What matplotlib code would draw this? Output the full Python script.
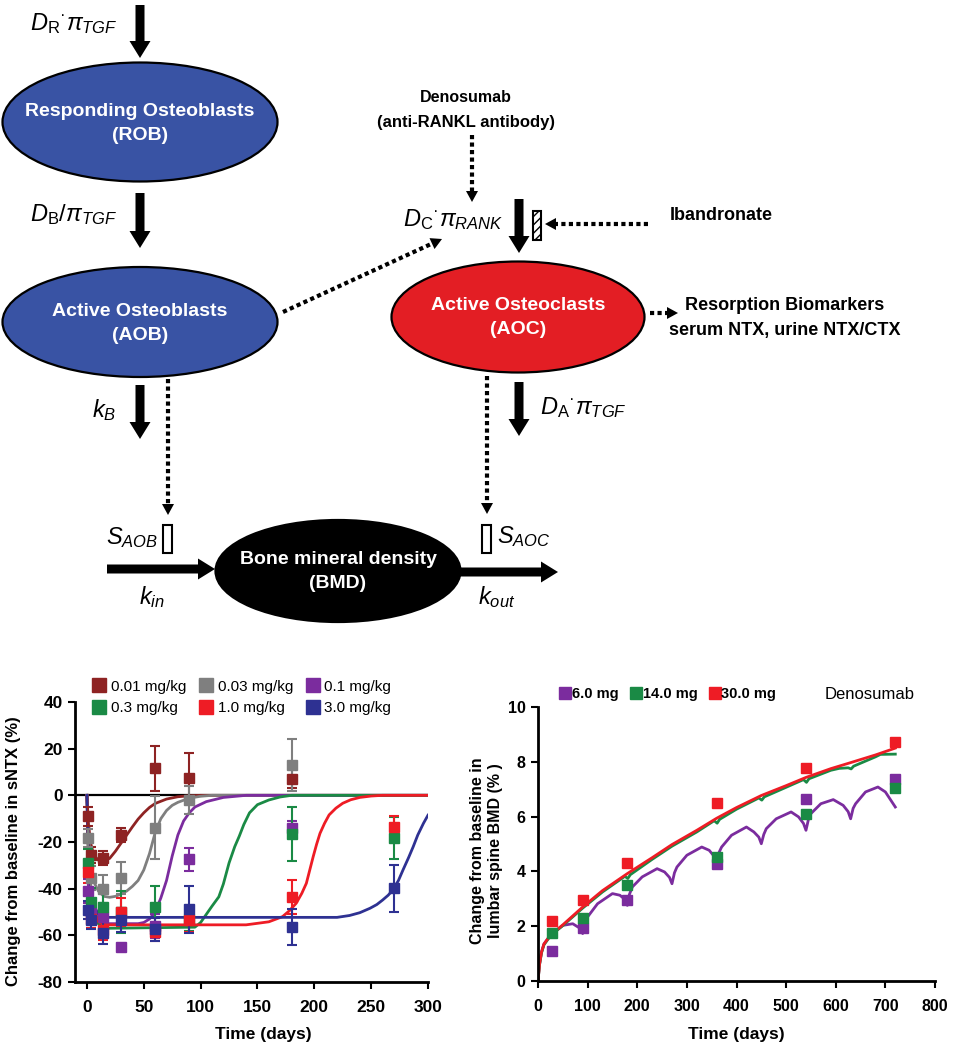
import numpy as np
import matplotlib
matplotlib.use("Agg")
import matplotlib.pyplot as plt
from matplotlib.patches import Ellipse, Rectangle, FancyArrow, Polygon
from matplotlib.lines import Line2D

plt.rcParams['font.family'] = ['Liberation Sans', 'DejaVu Sans']
plt.rcParams['mathtext.fontset'] = 'custom'
plt.rcParams['mathtext.rm'] = 'Liberation Sans'
plt.rcParams['mathtext.it'] = 'Liberation Sans:italic'
plt.rcParams['mathtext.bf'] = 'Liberation Sans:bold'
plt.rcParams['axes.unicode_minus'] = False

# ---- panel (lower left): sNTX change by dose group ----
dose_labels = ['0.01 mg/kg', '0.03 mg/kg', '0.1 mg/kg', '0.3 mg/kg', '1.0 mg/kg', '3.0 mg/kg']
dose_colors = ['#8E2323', '#7F7F7F', '#7B2C9E', '#1A8A45', '#EE1C25', '#2E3192']

obs_t_short = [1, 4, 14, 30, 60, 90, 180]
obs_t_long = [1, 4, 14, 30, 60, 90, 180, 270]
obs_001 = [-9, -25.5, -27, -17, 11.5, 7.3, 7.2]
err_001 = [4, 3.5, 3, 3, 9.5, 11, 4]
obs_003 = [-18.3, -35.4, -40, -35.4, -14, -2, 13]
err_003 = [4, 5, 6, 7, 13.5, 6, 11]
obs_01 = [-41, -50, -52, -65, -56, -27.4, -14]
err_01 = [5, 5, 5, 0, 5, 5, 3]
obs_03 = [-29, -45.6, -47.7, -50, -47.7, -53, -16.6, -18.4]
err_03 = [6, 6, 6, 9, 9, 5, 11.4, 9]
obs_10 = [-32.7, -53, -57.8, -50, -58.6, -53.4, -43.5, -13.7]
err_10 = [5, 4, 4, 6, 4, 5, 7.3, 5]
obs_30 = [-49.2, -53.4, -58.9, -53.4, -57.4, -48.9, -56.6, -39.9]
err_30 = [4, 4, 5, 5, 5, 10, 7.7, 10.2]

fit_001_t = [0, 1, 3, 6, 10, 14, 20, 25, 30, 35, 40, 45, 50, 55, 60, 70, 80, 90, 100, 300]
fit_001_y = [0, -10, -20, -25.5, -27.8, -28.3, -27, -24, -20.5, -17, -13.5, -10.2, -7.5, -5.2, -3.5, -1.6, -0.6, -0.2, 0, 0]
fit_003_t = [0, 1, 3, 6, 10, 15, 20, 25, 30, 35, 40, 45, 50, 55, 60, 65, 70, 75, 80, 90, 100, 110, 300]
fit_003_y = [0, -14, -28, -37, -41, -43.3, -43.7, -43.3, -42.3, -41, -39, -36.5, -32, -25, -16, -10, -6.5, -4.3, -3, -1.2, -0.4, 0, 0]
fit_01_t = [0, 1, 3, 6, 10, 15, 45, 50, 55, 60, 65, 70, 75, 80, 85, 90, 95, 105, 120, 140, 300]
fit_01_y = [0, -18, -38, -49, -53.5, -55, -55, -54.5, -53, -50, -44, -36.5, -26, -17, -11, -7.5, -5, -2.7, -0.9, 0, 0]
fit_03_t = [0, 1, 3, 6, 10, 15, 95, 100, 105, 110, 116, 120, 125, 130, 134, 138, 143, 150, 160, 170, 180, 300]
fit_03_y = [0, -20, -40, -51, -55, -57, -56.5, -54.5, -51, -47.5, -43.5, -38, -29, -22, -17.5, -12.5, -7.5, -4, -2, -0.7, 0, 0]
fit_10_t = [0, 1, 3, 6, 10, 15, 140, 160, 172, 178, 184, 189, 193, 196, 199, 202, 205, 209, 213, 219, 225, 232, 240, 250, 260, 300]
fit_10_y = [0, -20, -40, -50, -54, -55.5, -55.5, -54.2, -52, -49.5, -46.3, -42, -37.7, -32, -26.3, -21, -16.3, -12, -8.4, -5.5, -3.4, -1.9, -0.9, -0.3, 0, 0]
fit_30_t = [0, 1, 3, 6, 10, 15, 220, 231, 240, 249, 255, 260, 265, 269, 274, 278, 283, 287, 291, 296, 300]
fit_30_y = [0, -20, -38, -47, -51, -52.3, -52.3, -51.5, -50.3, -48.4, -46.8, -44.9, -42.8, -40.6, -36.5, -32, -26.6, -22, -17, -12, -8.5]

ntx_x_ticks = [0, 50, 100, 150, 200, 250, 300]
ntx_y_ticks = [-80, -60, -40, -20, 0, 20, 40]

# ---- panel (lower right): lumbar spine BMD, denosumab ----
bmd_labels = ['6.0 mg', '14.0 mg', '30.0 mg']
bmd_colors = ['#7B2C9E', '#1A8A45', '#EE1C25']
bmd_t = [28, 90, 180, 360, 540, 720]
bmd_6 = [1.1, 1.95, 2.97, 4.27, 6.63, 7.36]
bmd_14 = [1.75, 2.3, 3.5, 4.54, 6.09, 7.03]
bmd_30 = [2.2, 2.97, 4.3, 6.48, 7.78, 8.71]

bfit_30_t = [0, 3, 7, 12, 20, 28, 50, 90, 130, 180, 230, 270, 320, 360, 400, 450, 500, 540, 590, 630, 680, 720]
bfit_30_y = [0, 0.6, 1.05, 1.35, 1.55, 1.72, 2.05, 2.7, 3.3, 3.92, 4.5, 4.98, 5.5, 5.94, 6.33, 6.77, 7.13, 7.43, 7.75, 7.97, 8.25, 8.5]
bfit_14_t = [0, 3, 7, 12, 20, 28, 50, 90, 130, 175, 181, 186, 230, 270, 320, 355, 361, 366, 400, 445, 451, 456,
             500, 535, 541, 546, 590, 607, 625, 631, 636, 680, 690, 720]
bfit_14_y = [0, 0.58, 1.02, 1.32, 1.52, 1.7, 2.02, 2.66, 3.25, 3.82, 3.74, 3.88, 4.44, 4.92, 5.44, 5.85, 5.76, 5.9, 6.27, 6.68, 6.6, 6.72,
             7.07, 7.35, 7.25, 7.38, 7.69, 7.76, 7.78, 7.74, 7.84, 8.18, 8.27, 8.28]
bfit_6_t = [0, 3, 7, 12, 20, 28, 50, 70, 85, 90, 95, 100, 120, 150, 165, 175, 180, 184, 190, 210, 240, 255, 265, 270, 275,
            280, 300, 330, 345, 355, 360, 365, 370, 390, 420, 435, 445, 450, 455, 460, 480, 510, 525, 535, 540, 545, 550,
            570, 595, 615, 625, 630, 635, 640, 660, 685, 700, 720]
bfit_6_y = [0, 0.6, 1.05, 1.35, 1.55, 1.72, 2.03, 2.09, 1.92, 1.73, 2.05, 2.34, 2.82, 3.19, 3.13, 2.98, 2.76, 3.15, 3.43, 3.8, 4.1, 3.98, 3.78, 3.55, 3.95,
            4.16, 4.59, 4.89, 4.77, 4.55, 4.28, 4.7, 4.89, 5.32, 5.62, 5.44, 5.25, 5.01, 5.35, 5.56, 5.92, 6.17, 5.99, 5.75, 5.5, 5.9, 6.11,
            6.47, 6.62, 6.41, 6.18, 5.92, 6.3, 6.47, 6.9, 7.08, 6.9, 6.35]

bmd_x_ticks = [0, 100, 200, 300, 400, 500, 600, 700, 800]
bmd_y_ticks = [0, 2, 4, 6, 8, 10]

W, H = 955, 1050
fig = plt.figure(figsize=(W / 100, H / 100), dpi=100)

# ---------------- schematic (pixel coordinates) ----------------
dg = fig.add_axes([0, 0, 1, 1])
dg.set_xlim(0, W)
dg.set_ylim(H, 0)
dg.axis('off')


def node(cx, cy, w, h, color, line1, line2):
    dg.add_patch(Ellipse((cx, cy), w, h, facecolor=color, edgecolor='black', lw=1.6))
    dg.text(cx, cy - 11, line1, color='white', fontsize=14, fontweight='bold', ha='center', va='center')
    dg.text(cx, cy + 13, line2, color='white', fontsize=14, fontweight='bold', ha='center', va='center')


def solid_arrow(x0, y0, x1, y1):
    dg.add_patch(FancyArrow(x0, y0, x1 - x0, y1 - y0, width=9, head_width=21, head_length=17,
                            length_includes_head=True, color='black', lw=0))


def dotted_arrow(x0, y0, x1, y1, hl=11, hw=12):
    # dotted shaft + solid triangular head
    d = np.hypot(x1 - x0, y1 - y0)
    ux, uy = (x1 - x0) / d, (y1 - y0) / d
    bx, by = x1 - ux * hl, y1 - uy * hl
    dg.plot([x0, bx], [y0, by], color='black', lw=3, ls=(0, (1, 0.8)), dash_capstyle='butt')
    px, py = -uy * hw / 2, ux * hw / 2
    dg.add_patch(Polygon([(x1, y1), (bx + px, by + py), (bx - px, by - py)], closed=True,
                         facecolor='black', edgecolor='none'))


node(140, 122, 275, 119, '#3953A4', 'Responding Osteoblasts', '(ROB)')
node(140, 322, 275, 110, '#3953A4', 'Active Osteoblasts', '(AOB)')
node(518, 317, 253, 111, '#E31E24', 'Active Osteoclasts', '(AOC)')
node(338, 571, 245, 102, 'black', 'Bone mineral density', '(BMD)')

solid_arrow(140, 5, 140, 58)
solid_arrow(140, 193, 140, 248)
solid_arrow(140, 385, 140, 439)
solid_arrow(519, 199, 519, 253)
solid_arrow(519, 382, 519, 436)
solid_arrow(107, 569, 215, 569)
solid_arrow(460, 572, 558, 572)

dotted_arrow(168, 379, 168, 515)
dotted_arrow(487, 376, 487, 514)
dotted_arrow(472, 135, 472, 202)
dotted_arrow(283, 312, 442, 239)
dotted_arrow(648, 224, 545, 224)
dotted_arrow(650, 313, 678, 313)

dg.add_patch(Rectangle((163, 525), 9, 28, facecolor='white', edgecolor='black', lw=1.5))
dg.add_patch(Rectangle((482, 525), 9, 28, facecolor='white', edgecolor='black', lw=1.5))
dg.add_patch(Rectangle((533, 211), 8, 29, facecolor='white', edgecolor='black', lw=1.5, hatch='////'))

ms = 17
dg.text(30, 24, r'$D_{\mathrm{R}}{}^{·}\pi_{TGF}$', fontsize=ms, ha='left', va='center')
dg.text(30, 215, r'$D_{\mathrm{B}}/\pi_{TGF}$', fontsize=ms, ha='left', va='center')
dg.text(104, 410, r'$k_{B}$', fontsize=ms, ha='center', va='center')
dg.text(158, 538, r'$S_{AOB}$', fontsize=ms, ha='right', va='center')
dg.text(152, 597, r'$k_{in}$', fontsize=ms, ha='center', va='center')
dg.text(403, 220, r'$D_{\mathrm{C}}{}^{·}\pi_{RANK}$', fontsize=ms, ha='left', va='center')
dg.text(540, 408, r'$D_{\mathrm{A}}{}^{·}\pi_{TGF}$', fontsize=ms, ha='left', va='center')
dg.text(497, 537, r'$S_{AOC}$', fontsize=ms, ha='left', va='center')
dg.text(497, 597, r'$k_{out}$', fontsize=ms, ha='center', va='center')

dg.text(466, 98, 'Denosumab', fontsize=11.5, fontweight='bold', ha='center', va='center')
dg.text(466, 122, '(anti-RANKL antibody)', fontsize=12, fontweight='bold', ha='center', va='center')
dg.text(670, 216, 'Ibandronate', fontsize=13, fontweight='bold', ha='left', va='center')
dg.text(785, 306, 'Resorption Biomarkers', fontsize=13, fontweight='bold', ha='center', va='center')
dg.text(785, 330, 'serum NTX, urine NTX/CTX', fontsize=13, fontweight='bold', ha='center', va='center')

# ---------------- lower left: sNTX ----------------
ax1 = fig.add_axes([75 / W, 1 - 982 / H, 353 / W, 280 / H])
ax1.axhline(0, color='black', lw=1.6, zorder=1)
fits = [(fit_001_t, fit_001_y), (fit_003_t, fit_003_y), (fit_01_t, fit_01_y),
        (fit_03_t, fit_03_y), (fit_10_t, fit_10_y), (fit_30_t, fit_30_y)]
for (ft, fy), c in zip(fits, dose_colors):
    ax1.plot(ft, fy, color=c, lw=2, zorder=2)
obs = [(obs_t_short, obs_001, err_001), (obs_t_short, obs_003, err_003), (obs_t_short, obs_01, err_01),
       (obs_t_long, obs_03, err_03), (obs_t_long, obs_10, err_10), (obs_t_long, obs_30, err_30)]
for (ot, oy, oe), c in zip(obs, dose_colors):
    ax1.errorbar(ot, oy, yerr=oe, fmt='s', color=c, ms=7, elinewidth=1.5, capsize=3.5, capthick=1.5, zorder=3)

ax1.set_xlim(-10.5, 300)
ax1.set_ylim(-80, 40)
ax1.set_xticks(ntx_x_ticks)
ax1.set_yticks(ntx_y_ticks)
for s in ['top', 'right']:
    ax1.spines[s].set_visible(False)
for s in ['left', 'bottom']:
    ax1.spines[s].set_linewidth(2)
ax1.tick_params(direction='out', length=5, width=1.5, labelsize=12.5, pad=4)
ax1.tick_params(axis='x', pad=8)
for lab in ax1.get_xticklabels() + ax1.get_yticklabels():
    lab.set_fontweight('bold')

h1 = [Line2D([], [], ls='none', marker='s', ms=9.5, color=c) for c in dose_colors]
order = [0, 3, 1, 4, 2, 5]
ax1.legend([h1[i] for i in order], [dose_labels[i] for i in order], ncol=3, loc='upper left',
           bbox_to_anchor=(0.052, 1.08), frameon=False, fontsize=11, handlelength=0.8,
           handletextpad=0.35, columnspacing=0.9, labelspacing=0.5, borderpad=0, borderaxespad=0)

fig.text(14 / W, 1 - 851 / H, 'Change from baseline in sNTX (%)', rotation=90, fontsize=12,
         fontweight='bold', ha='center', va='center')
fig.text(263 / W, 1 - 1035 / H, 'Time (days)', fontsize=12.5, fontweight='bold', ha='center', va='center')

# ---------------- lower right: BMD ----------------
ax2 = fig.add_axes([538 / W, 1 - 981 / H, 397 / W, 274 / H])
ax2.plot(bfit_6_t, bfit_6_y, color=bmd_colors[0], lw=2, zorder=2)
ax2.plot(bfit_14_t, bfit_14_y, color=bmd_colors[1], lw=2, zorder=2)
ax2.plot(bfit_30_t, bfit_30_y, color=bmd_colors[2], lw=2, zorder=2)
for yv, c in zip([bmd_6, bmd_14, bmd_30], bmd_colors):
    ax2.plot(bmd_t, yv, ls='none', marker='s', ms=7, color=c, zorder=3)

ax2.set_xlim(0, 800)
ax2.set_ylim(0, 10)
ax2.set_xticks(bmd_x_ticks)
ax2.set_yticks(bmd_y_ticks)
for s in ['top', 'right']:
    ax2.spines[s].set_visible(False)
for s in ['left', 'bottom']:
    ax2.spines[s].set_linewidth(2)
ax2.tick_params(direction='out', length=5, width=1.5, labelsize=11.5, pad=4)
ax2.tick_params(axis='x', pad=8)
for lab in ax2.get_xticklabels() + ax2.get_yticklabels():
    lab.set_fontweight('bold')

h2 = [Line2D([], [], ls='none', marker='s', ms=8, color=c) for c in bmd_colors]
ax2.legend(h2, bmd_labels, ncol=3, loc='upper left', bbox_to_anchor=(0.058, 1.073), frameon=False,
           prop={'size': 10.5, 'weight': 'bold'}, handlelength=0.6, handletextpad=0.15, columnspacing=0.9,
           borderpad=0, borderaxespad=0)
ax2.text(0.836, 1.044, 'Denosumab', transform=ax2.transAxes, fontsize=12, ha='center', va='center')

fig.text(486 / W, 1 - 851 / H, 'Change from baseline in\nlumbar spine BMD (% )', rotation=90, fontsize=11.5,
         fontweight='bold', ha='center', va='center', linespacing=1.25, multialignment='center')
fig.text(736 / W, 1 - 1035 / H, 'Time (days)', fontsize=12.5, fontweight='bold', ha='center', va='center')

fig.savefig('out.png', dpi=100)
